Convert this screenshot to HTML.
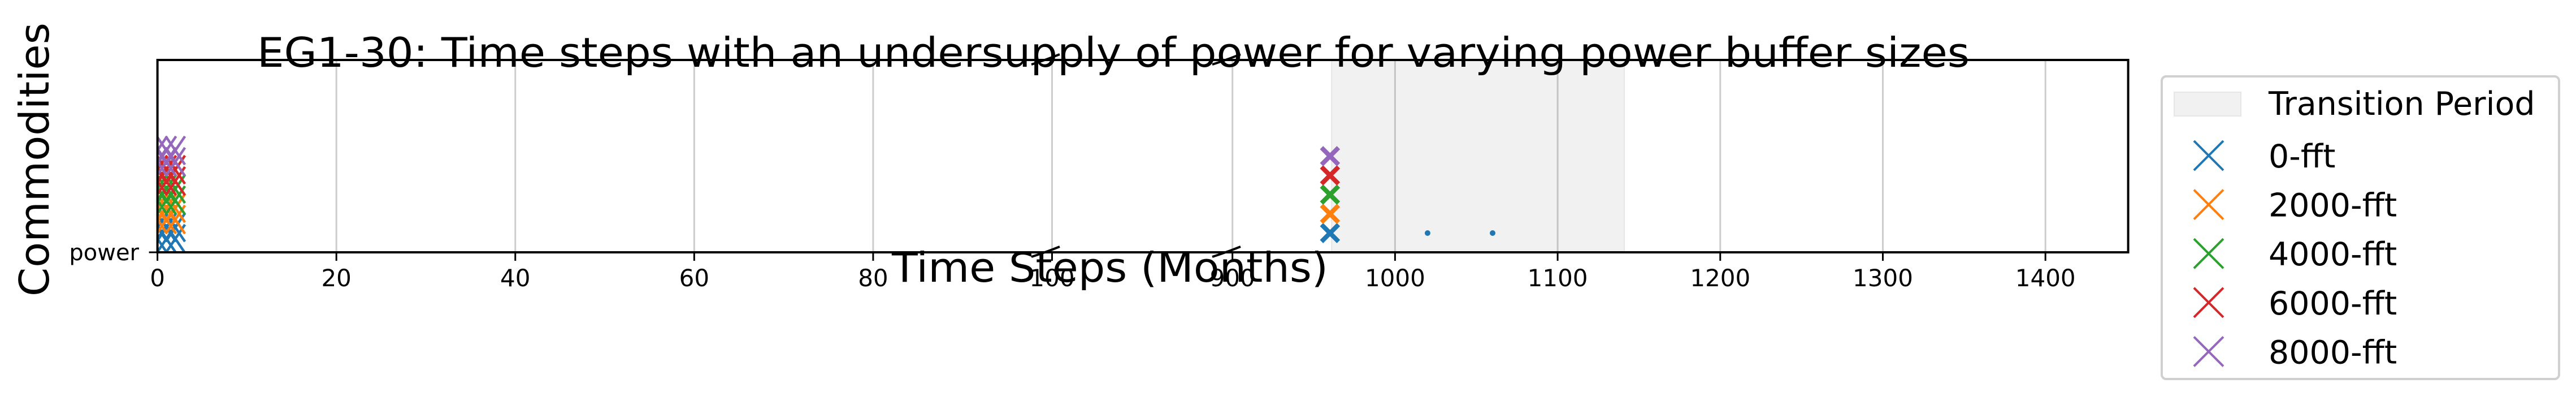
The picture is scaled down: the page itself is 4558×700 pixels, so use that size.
<!DOCTYPE html>
<html><head><meta charset="utf-8"><style>
html,body{margin:0;padding:0;background:#fff;}
svg{display:block;font-family:"DejaVu Sans","Liberation Sans",sans-serif;}
</style></head><body>
<svg id="chart" width="4558" height="700" viewBox="0 0 4558 700" xmlns="http://www.w3.org/2000/svg">
<g id="grid"></g>
<rect id="transition" fill="#f1f1f1" stroke="#e6e6e6" stroke-width="2"></rect>
<g id="grid2"></g>
<g id="marks"></g>
<g id="axes"></g>
<text x="1970" y="118" font-size="72" text-anchor="middle" textLength="3030" lengthAdjust="spacingAndGlyphs">EG1-30: Time steps with an undersupply of power for varying power buffer sizes</text>
<text transform="translate(86,282) rotate(-90)" font-size="72" text-anchor="middle" textLength="484" lengthAdjust="spacingAndGlyphs">Commodities</text>
<text x="1964" y="498" font-size="72" text-anchor="middle" textLength="772" lengthAdjust="spacingAndGlyphs">Time Steps (Months)</text>
<text x="246" y="460" font-size="40" text-anchor="end">power</text>
<g id="legend">
<rect x="3825" y="135" width="703" height="535" rx="8" fill="#fff" stroke="#d0d0d0" stroke-width="4"></rect>
<rect x="3847" y="163" width="118" height="42" fill="#f1f1f1" stroke="#e6e6e6" stroke-width="2"></rect>
<text x="4014" y="203" font-size="57">Transition Period</text>
</g>
</svg>
<script>
const seriesNames = ['0-fft','2000-fft','4000-fft','6000-fft','8000-fft'];
const seriesColors = ['#1f77b4','#ff7f0e','#2ca02c','#d62728','#9467bd'];
const seriesLevels = [1,2,3,4,5];
const earlySteps = [0,1,2];
const lateSteps = [960,960,960,960,960];
const dotSteps = [1020,1060];
const transitionRange = [961,1141];
const xTicks = [0,20,40,60,80,100,900,1000,1100,1200,1300,1400];

const NS='http://www.w3.org/2000/svg';
const L=278.6,T=106,B=446,R=3765.6;
function xs(v){
  if(v<=100) return 278.6+v*(1861.5-278.6)/100;
  if(v<=900) return 1861.5+(v-100)*(2180.7-1861.5)/800;
  return 2180.7+(v-900)*2.877;
}
function ys(level){return B-level*34;}
function mk(tag,attrs,parent){const e=document.createElementNS(NS,tag);for(const k in attrs)e.setAttribute(k,attrs[k]);parent.appendChild(e);return e;}
const grid=document.getElementById('grid'),grid2=document.getElementById('grid2'),marks=document.getElementById('marks'),axes=document.getElementById('axes'),legend=document.getElementById('legend');

const tr=document.getElementById('transition');
tr.setAttribute('x',xs(transitionRange[0]));tr.setAttribute('y',T);
tr.setAttribute('width',xs(transitionRange[1])-xs(transitionRange[0]));tr.setAttribute('height',B-T);

xTicks.forEach(t=>{
  const x=xs(t);
  const inBand=t>=transitionRange[0]&&t<=transitionRange[1];
  const g=mk('line',{x1:x,x2:x,y1:T,y2:B,stroke:inBand?'#c4c4c4':'#cdcdcd','stroke-width':3},inBand?grid2:grid);
  
  
  const tk=mk('line',{x1:x,x2:x,y1:B,y2:B+15,stroke:'#000','stroke-width':3},axes);
  
  
  const lb=mk('text',{x:x,y:506,'font-size':42,'text-anchor':'middle'},axes);
  lb.textContent=t;
  
  
});

function cross(cx,cy,hw,hh,color,sw,parent,name){
  const g=mk('g',{},parent);
  
  
  mk('line',{x1:cx-hw,y1:cy-hh,x2:cx+hw,y2:cy+hh,stroke:color,'stroke-width':sw},g);
  mk('line',{x1:cx-hw,y1:cy+hh,x2:cx+hw,y2:cy-hh,stroke:color,'stroke-width':sw},g);
  return g;
}
const clip=mk('clipPath',{id:'plotclip'},document.getElementById('chart'));
mk('rect',{x:L,y:T,width:R-L,height:B-T},clip);
marks.setAttribute('clip-path','url(#plotclip)');

seriesNames.forEach((n,i)=>{
  const y=ys(seriesLevels[i]);
  earlySteps.forEach(s=>{
    cross(xs(s),y-10,17,25,seriesColors[i],4.5,marks,'marker-'+n+'-early');
    cross(xs(s),y+10,17,25,seriesColors[i],4.5,marks,'marker-'+n+'-early');
  });
  cross(xs(lateSteps[i]),y,15,15,seriesColors[i],8,marks,'marker-'+n+'-late');
  const ly=275+i*86.6;
  cross(3908,ly,26,26,seriesColors[i],4,legend,'legend-marker-'+n);
  const lt=mk('text',{x:4014,y:ly+21,'font-size':57},legend);
  lt.textContent=n;
  
  
});
dotSteps.forEach(s=>{
  const d=mk('circle',{cx:xs(s),cy:ys(seriesLevels[0]),r:5,fill:seriesColors[0]},marks);
  
  
});

const sp=mk('path',{d:`M${L},${T}H${R}V${B}H${L}Z`,fill:'none',stroke:'#000','stroke-width':4},axes);


const yt=mk('line',{x1:L-15,x2:L,y1:B,y2:B,stroke:'#000','stroke-width':3},axes);


[1850,2170].forEach(bx=>{
  [T,B].forEach(by=>{
    const b=mk('path',{d:`M${bx-25},${by+8} Q${bx},${by} ${bx+25},${by-10}`,fill:'none',stroke:'#000','stroke-width':4},axes);
    
    
  });
});
</script>
</body></html>
